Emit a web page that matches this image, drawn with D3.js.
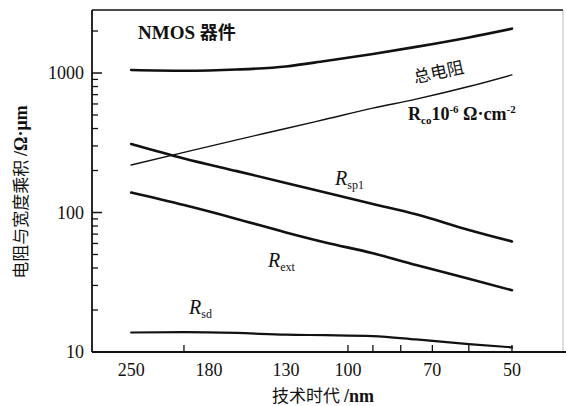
<!DOCTYPE html>
<html>
<head>
<meta charset="utf-8">
<script src="https://cdn.jsdelivr.net/npm/d3@7"></script>
<style>
  body { margin: 0; background: #fff; }
  svg { display: block; }
  .num { font-family: "Liberation Serif", "Times New Roman", serif; font-size: 18px; fill: #111; }
  .cjk { font-family: "Noto Sans CJK SC", sans-serif; font-size: 17px; fill: #111; }
</style>
</head>
<body>
<svg id="chart" width="566" height="406"></svg>
<script>
// technology node (nm) where the curves were read
const nodes = [250, 200, 160, 130, 110, 90, 75, 60, 50];

// resistance-width product, ohm*um
const totalR = [1050, 1038, 1060, 1115, 1220, 1370, 1540, 1800, 2080];
const rco = [219, 270, 332, 400, 466, 560, 650, 800, 970];
const rsp1 = [310, 244, 198, 163, 139, 115, 97, 75, 62];
const rext = [139, 113, 90, 72, 61, 51, 42, 33.5, 27.7];
const rsd = [13.8, 13.9, 13.7, 13.3, 13.2, 13.0, 12.3, 11.4, 10.8];

const xLabels = [250, 180, 130, 100, 70, 50];
const xTicks = [200, 100, 90, 80, 70, 60, 50];
const yMajor = [10, 100, 1000];
const yMinor = [20, 30, 40, 50, 60, 70, 80, 90, 200, 300, 400, 500, 600, 700, 800, 900, 2000];

const svg = d3.select('#chart');
const plotL = 92, plotR = 563, plotT = 10, plotB = 352;

const x = d3.scaleLog().domain([295, 40.3]).range([plotL, plotR]);
const y = d3.scaleLog().domain([10, 2830]).range([plotB, plotT]);

// frame: right side is faint
svg.append('line').attr('x1', plotR).attr('x2', plotR).attr('y1', plotT).attr('y2', plotB)
    .attr('stroke', '#bbb').attr('stroke-width', 1);
svg.append('line').attr('x1', plotL).attr('x2', plotR).attr('y1', plotT).attr('y2', plotT)
    .attr('stroke', '#111').attr('stroke-width', 1.6);
svg.append('line').attr('x1', plotL).attr('x2', 566).attr('y1', plotB).attr('y2', plotB)
    .attr('stroke', '#111').attr('stroke-width', 1.8);
svg.append('line').attr('x1', plotL).attr('x2', plotL).attr('y1', plotT).attr('y2', plotB)
    .attr('stroke', '#111').attr('stroke-width', 1.8);

// y ticks (inward)
svg.selectAll('.ymaj').data(yMajor).join('line')
    .attr('x1', plotL).attr('x2', plotL + 10)
    .attr('y1', d => y(d)).attr('y2', d => y(d))
    .attr('stroke', '#111').attr('stroke-width', 1.5);
svg.selectAll('.ymin').data(yMinor).join('line')
    .attr('x1', plotL).attr('x2', plotL + 6)
    .attr('y1', d => y(d)).attr('y2', d => y(d))
    .attr('stroke', '#111').attr('stroke-width', 1.3);
svg.selectAll('.ylab').data(yMajor).join('text')
    .attr('class', 'num')
    .attr('x', plotL - 8).attr('y', d => y(d)).attr('dy', '0.35em')
    .attr('text-anchor', 'end')
    .text(d => d);

// x ticks (inward)
svg.selectAll('.xt').data(xTicks).join('line')
    .attr('x1', d => x(d)).attr('x2', d => x(d))
    .attr('y1', plotB).attr('y2', plotB - 7)
    .attr('stroke', '#111').attr('stroke-width', 1.3);
svg.selectAll('.xlab').data(xLabels).join('text')
    .attr('class', 'num')
    .attr('x', d => x(d)).attr('y', 376)
    .attr('text-anchor', 'middle')
    .text(d => d);

// axis titles
const xt = svg.append('text').attr('x', 323).attr('y', 402).attr('text-anchor', 'middle');
xt.append('tspan').attr('class', 'cjk').text('技术时代 ');
xt.append('tspan').attr('class', 'num').style('font-weight', 'bold').text('/nm');

const yt = svg.append('text')
    .attr('transform', 'translate(27,192) rotate(-90)')
    .attr('text-anchor', 'middle');
yt.append('tspan').attr('class', 'cjk').text('电阻与宽度乘积 ');
yt.append('tspan').attr('class', 'num').style('font-weight', 'bold').text('/Ω·μm');

// curves
const series = [
    { vals: totalR, w: 2.6 },
    { vals: rco, w: 1.4 },
    { vals: rsp1, w: 2.6 },
    { vals: rext, w: 2.6 },
    { vals: rsd, w: 2.2 },
];
const line = d3.line()
    .x(d => x(d[0]))
    .y(d => y(d[1]))
    .curve(d3.curveMonotoneX);
series.forEach(s => {
    svg.append('path')
        .datum(nodes.map((n, i) => [n, s.vals[i]]))
        .attr('d', line)
        .attr('fill', 'none')
        .attr('stroke', '#111')
        .attr('stroke-width', s.w)
        .attr('stroke-linecap', 'round');
});

// annotations
const title = svg.append('text').attr('x', 138).attr('y', 39);
title.append('tspan').attr('class', 'num').style('font-weight', 'bold').style('font-size', '19px').text('NMOS ');
title.append('tspan').attr('class', 'cjk').style('font-weight', 'bold').style('font-size', '18px').text('器件');

svg.append('text').attr('class', 'cjk')
    .attr('transform', 'translate(440,78) rotate(-12)')
    .attr('text-anchor', 'middle')
    .text('总电阻');

const co = svg.append('text').attr('class', 'num').attr('x', 408).attr('y', 120)
    .style('font-weight', 'bold');
co.append('tspan').text('R');
co.append('tspan').attr('dy', 4).style('font-size', '11px').text('co');
co.append('tspan').attr('dy', -4).text('10');
co.append('tspan').attr('dy', -7).style('font-size', '11px').text('-6');
co.append('tspan').attr('dy', 7).text(' Ω·cm');
co.append('tspan').attr('dy', -7).style('font-size', '11px').text('-2');

function rLabel(px, py, sub) {
    const t = svg.append('text').attr('class', 'num').attr('x', px).attr('y', py);
    t.append('tspan').style('font-style', 'italic').style('font-size', '20px').text('R');
    t.append('tspan').attr('dy', 4).style('font-size', '12px').text(sub);
}
rLabel(335, 185, 'sp1');
rLabel(268, 267, 'ext');
rLabel(189, 314, 'sd');
</script>
</body>
</html>
